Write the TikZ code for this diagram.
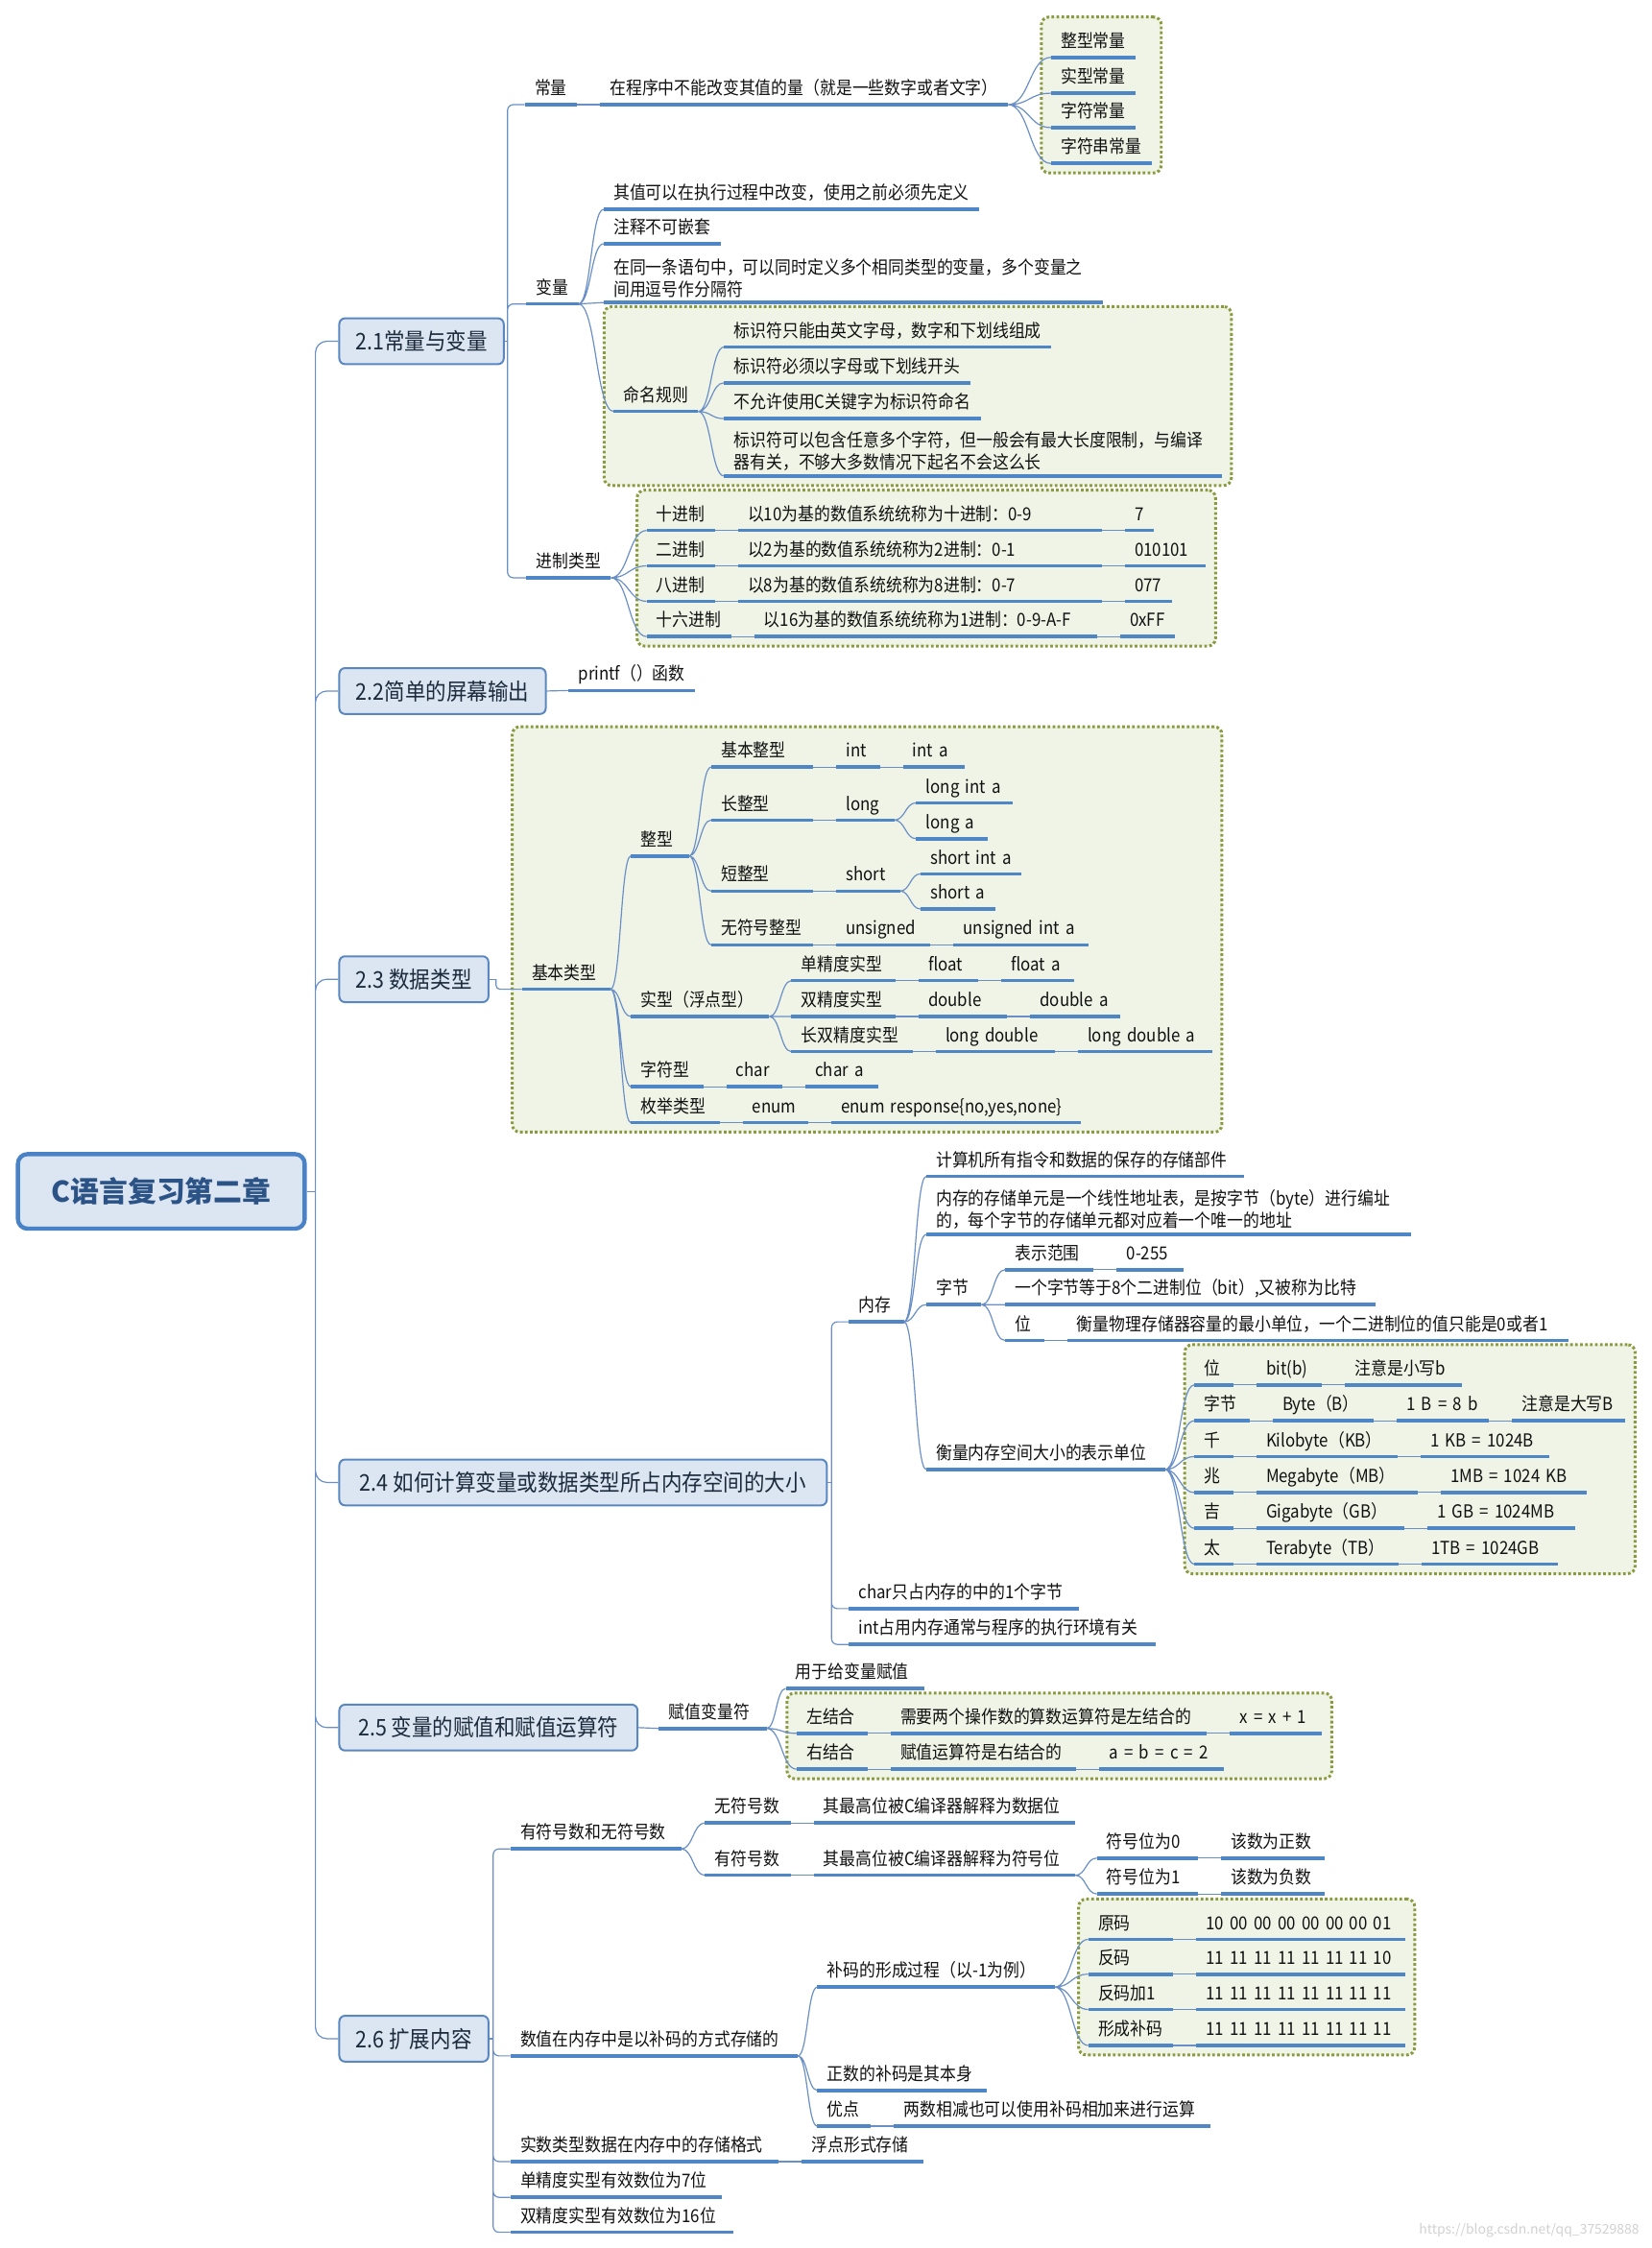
\documentclass[tikz,border=0pt]{standalone}
\usepackage{fontspec}
\setmainfont{Noto Sans CJK SC}
\newfontfamily\condfont{Noto Sans CJK SC}[FakeStretch=0.9]
\usetikzlibrary{positioning,calc,fit,backgrounds}
\definecolor{ulc}{HTML}{4F86C6}
\definecolor{linkc}{HTML}{6A8FC6}
\definecolor{secc}{HTML}{5B87C0}
\definecolor{secfill}{HTML}{DCE6F2}
\definecolor{rootc}{HTML}{4A82C8}
\definecolor{roottext}{HTML}{2C5386}
\definecolor{sectext}{HTML}{1C2B3C}
\definecolor{textc}{HTML}{111111}
\definecolor{grpc}{HTML}{8A9A3E}
\definecolor{grpfill}{HTML}{EFF4E6}
\tikzset{
	ulline/.style={draw=ulc,line width=1.8pt},
	ulbase/.style={anchor=south west,inner xsep=5pt,inner ysep=2.5pt,align=left,
		font=\condfont\fontsize{9.4}{11.5}\selectfont,text=textc,
		append after command={(\tikzlastnode.south west) edge[ulline] (\tikzlastnode.south east)}},
	topic/.style={ulbase,text height=8.2pt,text depth=2.5pt},
	para/.style={ulbase},
	tw/.style={text width=#1},
	link/.style={draw=linkc,line width=0.6pt},
	branch/.style={link,to path={.. controls ($(\tikztostart)!0.5!(\tikztostart-|\tikztotarget)$) and ($(\tikztotarget)!0.5!(\tikztotarget-|\tikztostart)$) .. (\tikztotarget)}},
	rootbox/.style={draw=rootc,fill=secfill,line width=2.2pt,rounded corners=5pt,minimum width=150pt,minimum height=39pt,
		font=\fontsize{15}{18}\selectfont\bfseries,text=roottext},
	secbox/.style={anchor=west,draw=secc,fill=secfill,line width=1pt,rounded corners=3pt,minimum height=24pt,
		inner xsep=7pt,font=\condfont\fontsize{12}{14}\selectfont,text=sectext},
	grpbox/.style={draw=grpc,fill=grpfill,line width=1.5pt,dash pattern=on 1.4pt off 1.2pt,rounded corners=4pt,inner sep=5pt}
}
\begin{document}
\begin{tikzpicture}[x=0.75pt,y=-0.75pt,node distance=12pt]
	\useasboundingbox (0,0) rectangle (1152,1568);
	\node[rootbox] (root) at (112.5,831) {C语言复习第二章};
	\coordinate (trunk) at (220,831);
	\node[secbox,minimum width=86pt]  (s21) at (236,238)  {2.1常量与变量};
	\node[secbox,minimum width=108pt] (s22) at (236,482)  {2.2简单的屏幕输出};
	\node[secbox,minimum width=78pt]  (s23) at (236,683)  {2.3 数据类型};
	\node[secbox,minimum width=255pt] (s24) at (236,1034) {2.4 如何计算变量或数据类型所占内存空间的大小};
	\node[secbox,minimum width=156pt] (s25) at (236,1205) {2.5 变量的赋值和赋值运算符};
	\node[secbox,minimum width=78pt]  (s26) at (236,1422) {2.6 扩展内容};
	\draw[link] (root.east) -- (trunk);
	\draw[link,rounded corners=6pt] (trunk) |- (s21.west) (trunk) |- (s22.west) (trunk) |- (s23.west)
		(trunk) |- (s24.west) (trunk) |- (s25.west) (trunk) |- (s26.west);

	\coordinate (bus21) at (354,238);
	\node[topic] (const) at (366,73) {常量};
	\node[topic,right=of const] (constdef) {在程序中不能改变其值的量（就是一些数字或者文字）};
	\node[topic] (cint)  at (733,40)  {整型常量};
	\node[topic] (creal) at (733,65)  {实型常量};
	\node[topic] (cchar) at (733,89)  {字符常量};
	\node[topic] (cstr)  at (733,114) {字符串常量};
	\node[topic] (var)   at (367,212) {变量};
	\node[topic] (var1)  at (421,146) {其值可以在执行过程中改变，使用之前必须先定义};
	\node[topic] (var2)  at (421,170) {注释不可嵌套};
	\node[para,tw=251pt] (var3) at (421,211) {在同一条语句中，可以同时定义多个相同类型的变量，多个变量之\\间用逗号作分隔符};
	\node[topic] (naming) at (428,287) {命名规则};
	\node[topic] (nm1) at (505,242) {标识符只能由英文字母，数字和下划线组成};
	\node[topic] (nm2) at (505,267) {标识符必须以字母或下划线开头};
	\node[topic] (nm3) at (505,292) {不允许使用C关键字为标识符命名};
	\node[para,tw=250pt] (nm4) at (505,332) {标识符可以包含任意多个字符，但一般会有最大长度限制，与编译\\器有关，不够大多数情况下起名不会这么长};
	\node[topic] (radix) at (367,403) {进制类型};
	\node[topic] (dec) at (451,370) {十进制};
	\node[topic,tw=180pt,right=of dec] (decd) {以10为基的数值系统统称为十进制：0-9};
	\node[topic,right=of decd] (decx) {7};
	\node[topic] (bin) at (451,394.7) {二进制};
	\node[topic,tw=180pt,right=of bin] (bind) {以2为基的数值系统统称为2进制：0-1};
	\node[topic,tw=32pt,right=of bind] (binx) {010101};
	\node[topic] (oct) at (451,419.4) {八进制};
	\node[topic,tw=180pt,right=of oct] (octd) {以8为基的数值系统统称为8进制：0-7};
	\node[topic,right=of octd] (octx) {077};
	\node[topic] (hex) at (451,444) {十六进制};
	\node[topic,tw=169pt,right=of hex] (hexd) {以16为基的数值系统统称为1进制：0-9-A-F};
	\node[topic,right=of hexd] (hexx) {0xFF};
	\draw[link] (s21.east) -- (bus21);
	\draw[link,rounded corners=3pt] (bus21) |- (const.south west) (bus21) |- (var.south west) (bus21) |- (radix.south west);
	\draw[link] (const.south east) -- (constdef.south west);
	\draw[branch] (constdef.south east) to (cint.south west) (constdef.south east) to (creal.south west)
		(constdef.south east) to (cchar.south west) (constdef.south east) to (cstr.south west);
	\draw[branch] (var.south east) to (var1.south west) (var.south east) to (var2.south west)
		(var.south east) to (var3.south west) (var.south east) to (naming.south west);
	\draw[branch] (naming.south east) to (nm1.south west) (naming.south east) to (nm2.south west)
		(naming.south east) to (nm3.south west) (naming.south east) to (nm4.south west);
	\draw[branch] (radix.south east) to (dec.south west) (radix.south east) to (bin.south west)
		(radix.south east) to (oct.south west) (radix.south east) to (hex.south west);
	\draw[link] (dec.south east) -- (decd.south west) (decd.south east) -- (decx.south west)
		(bin.south east) -- (bind.south west) (bind.south east) -- (binx.south west)
		(oct.south east) -- (octd.south west) (octd.south east) -- (octx.south west)
		(hex.south east) -- (hexd.south west) (hexd.south east) -- (hexx.south west);

	\node[topic] (printf) at (396.5,481.6) {printf（）函数};
	\draw[link] (s22.east) -- (printf.south west);

	\coordinate (bus23) at (346,683);
	\node[topic,tw=36pt] (basic) at (364,690) {基本类型};
	\node[topic,tw=20pt] (intg) at (440,597) {整型};
	\node[topic,tw=43pt] (intb) at (496,535) {基本整型};
	\node[topic,tw=12.5pt,right=of intb] (intb1) {int};
	\node[topic,tw=22pt,right=of intb1] (intb2) {int a};
	\node[topic,tw=43pt] (intl) at (496,572) {长整型};
	\node[topic,tw=20pt,right=of intl] (intl1) {long};
	\node[topic,tw=40pt] (intl2a) at (639,560) {long int a};
	\node[topic,tw=27pt] (intl2b) at (639,585) {long a};
	\node[topic,tw=43pt] (ints) at (496,621.5) {短整型};
	\node[topic,tw=23pt,right=of ints] (ints1) {short};
	\node[topic,tw=42.5pt] (ints2a) at (642,609.5) {short int a};
	\node[topic,tw=29pt] (ints2b) at (642,634) {short a};
	\node[topic,tw=43pt] (intu) at (496,659) {无符号整型};
	\node[topic,tw=39pt,right=of intu] (intu1) {unsigned};
	\node[topic,tw=60pt,right=of intu1] (intu2) {unsigned int a};
	\node[topic,tw=62pt] (real) at (440,709) {实型（浮点型）};
	\node[topic,tw=44pt] (flt) at (552,684) {单精度实型};
	\node[topic,tw=21pt,right=of flt] (flt1) {float};
	\node[topic,tw=27.5pt,right=of flt1] (flt2) {float a};
	\node[topic,tw=44pt] (dbl) at (552,709) {双精度实型};
	\node[topic,tw=36pt,right=of dbl] (dbl1) {double};
	\node[topic,tw=37pt,right=of dbl1] (dbl2) {double a};
	\node[topic,tw=53pt] (ldbl) at (552,733.5) {长双精度实型};
	\node[topic,tw=52pt,right=of ldbl] (ldbl1) {long double};
	\node[topic,tw=60pt,right=of ldbl1] (ldbl2) {long double a};
	\node[topic,tw=27.5pt] (chr) at (440,758) {字符型};
	\node[topic,tw=19pt,right=of chr] (chr1) {char};
	\node[topic,tw=27.5pt,right=of chr1] (chr2) {char a};
	\node[topic,tw=36pt] (enm) at (440,783) {枚举类型};
	\node[topic,tw=24pt,right=of enm] (enm1) {enum};
	\node[topic,tw=120pt,right=of enm1] (enm2) {enum response\{no,yes,none\}};
	\draw[link] (s23.east) -- (bus23);
	\draw[link,rounded corners=2pt] (bus23) |- (basic.south west);
	\draw[branch] (basic.south east) to (intg.south west) (basic.south east) to (real.south west)
		(basic.south east) to (chr.south west) (basic.south east) to (enm.south west);
	\draw[branch] (intg.south east) to (intb.south west) (intg.south east) to (intl.south west)
		(intg.south east) to (ints.south west) (intg.south east) to (intu.south west);
	\draw[branch] (intl1.south east) to (intl2a.south west) (intl1.south east) to (intl2b.south west);
	\draw[branch] (ints1.south east) to (ints2a.south west) (ints1.south east) to (ints2b.south west);
	\draw[branch] (real.south east) to (flt.south west) (real.south east) to (dbl.south west)
		(real.south east) to (ldbl.south west);
	\draw[link] (intb.south east) -- (intb1.south west) (intb1.south east) -- (intb2.south west)
		(intl.south east) -- (intl1.south west) (ints.south east) -- (ints1.south west)
		(intu.south east) -- (intu1.south west) (intu1.south east) -- (intu2.south west)
		(flt.south east) -- (flt1.south west) (flt1.south east) -- (flt2.south west)
		(dbl.south east) -- (dbl1.south west) (dbl1.south east) -- (dbl2.south west)
		(ldbl.south east) -- (ldbl1.south west) (ldbl1.south east) -- (ldbl2.south west)
		(chr.south east) -- (chr1.south west) (chr1.south east) -- (chr2.south west)
		(enm.south east) -- (enm1.south west) (enm1.south east) -- (enm2.south west);

	\coordinate (bus24) at (580,1034);
	\node[topic,tw=18.5pt] (mem) at (592,922) {内存};
	\node[topic,tw=156pt] (mem1) at (646,820.5) {计算机所有指令和数据的保存的存储部件};
	\node[para,tw=243pt] (mem2) at (646,861) {内存的存储单元是一个线性地址表，是按字节（byte）进行编址\\的，每个字节的存储单元都对应着一个唯一的地址};
	\node[topic,tw=18.5pt] (byte) at (646,910) {字节};
	\node[topic,tw=36pt] (range) at (701,885.6) {表示范围};
	\node[topic,tw=24.5pt,right=of range] (range1) {0-255};
	\node[topic,tw=183.5pt] (byte2) at (701,910) {一个字节等于8个二进制位（bit）,又被称为比特};
	\node[topic,tw=10pt] (bit) at (701,935) {位};
	\node[topic,tw=252pt,right=of bit] (bit1) {衡量物理存储器容量的最小单位，一个二进制位的值只能是0或者1};
	\node[topic,tw=114.5pt] (unit) at (646,1025) {衡量内存空间大小的表示单位};
	\node[topic,tw=10pt] (ubit) at (833,966) {位};
	\node[topic,tw=24pt,right=of ubit] (ubit1) {bit(b)};
	\node[topic,tw=51pt,right=of ubit1] (ubit2) {注意是小写b};
	\node[topic,tw=18.5pt] (ubyte) at (833,991) {字节};
	\node[topic,tw=42.5pt,right=of ubyte] (ubyte1) {Byte（B）};
	\node[topic,tw=38pt,right=of ubyte1] (ubyte2) {1 B = 8 b};
	\node[topic,tw=49pt,right=of ubyte2] (ubyte3) {注意是大写B};
	\node[topic,tw=10pt] (ukb) at (833,1016) {千};
	\node[topic,tw=63.5pt,right=of ukb] (ukb1) {Kilobyte（KB）};
	\node[topic,tw=57pt,right=of ukb1] (ukb2) {1 KB = 1024B};
	\node[topic,tw=10pt] (umb) at (833,1041) {兆};
	\node[topic,tw=74pt,right=of umb] (umb1) {Megabyte（MB）};
	\node[topic,tw=66pt,right=of umb1] (umb2) {1MB = 1024 KB};
	\node[topic,tw=10pt] (ugb) at (833,1066) {吉};
	\node[topic,tw=67pt,right=of ugb] (ugb1) {Gigabyte（GB）};
	\node[topic,tw=67pt,right=of ugb1] (ugb2) {1 GB = 1024MB};
	\node[topic,tw=10pt] (utb) at (833,1091) {太};
	\node[topic,tw=64pt,right=of utb] (utb1) {Terabyte（TB）};
	\node[topic,tw=61pt,right=of utb1] (utb2) {1TB = 1024GB};
	\node[topic,tw=110pt] (charsz) at (592,1122) {char只占内存的中的1个字节};
	\node[topic,tw=150pt] (intsz) at (592,1147) {int占用内存通常与程序的执行环境有关};
	\draw[link] (s24.east) -- (bus24);
	\draw[link,rounded corners=3pt] (bus24) |- (mem.south west) (bus24) |- (charsz.south west) (bus24) |- (intsz.south west);
	\draw[branch] (mem.south east) to (mem1.south west) (mem.south east) to (mem2.south west)
		(mem.south east) to (byte.south west) (mem.south east) to (unit.south west);
	\draw[branch] (byte.south east) to (range.south west) (byte.south east) to (byte2.south west)
		(byte.south east) to (bit.south west);
	\draw[branch] (unit.south east) to (ubit.south west) (unit.south east) to (ubyte.south west)
		(unit.south east) to (ukb.south west) (unit.south east) to (umb.south west)
		(unit.south east) to (ugb.south west) (unit.south east) to (utb.south west);
	\draw[link] (range.south east) -- (range1.south west) (bit.south east) -- (bit1.south west)
		(ubit.south east) -- (ubit1.south west) (ubit1.south east) -- (ubit2.south west)
		(ubyte.south east) -- (ubyte1.south west) (ubyte1.south east) -- (ubyte2.south west) (ubyte2.south east) -- (ubyte3.south west)
		(ukb.south east) -- (ukb1.south west) (ukb1.south east) -- (ukb2.south west)
		(umb.south east) -- (umb1.south west) (umb1.south east) -- (umb2.south west)
		(ugb.south east) -- (ugb1.south west) (ugb1.south east) -- (ugb2.south west)
		(utb.south east) -- (utb1.south west) (utb1.south east) -- (utb2.south west);

	\node[topic,tw=46pt] (asgn) at (459.5,1205.6) {赋值变量符};
	\node[topic,tw=62pt] (asgn1) at (548,1177.7) {用于给变量赋值};
	\node[topic,tw=26.75pt] (lft) at (555.6,1209) {左结合};
	\node[topic,tw=155pt,right=of lft] (lft1) {需要两个操作数的算数运算符是左结合的};
	\node[topic,tw=38pt,right=of lft1] (lft2) {x = x + 1};
	\node[topic,tw=26.75pt] (rgt) at (555.6,1234) {右结合};
	\node[topic,tw=86.75pt,right=of rgt] (rgt1) {赋值运算符是右结合的};
	\node[topic,tw=55pt,right=of rgt1] (rgt2) {a = b = c = 2};
	\draw[link] (s25.east) -- (asgn.south west);
	\draw[branch] (asgn.south east) to (asgn1.south west) (asgn.south east) to (lft.south west)
		(asgn.south east) to (rgt.south west);
	\draw[link] (lft.south east) -- (lft1.south west) (lft1.south east) -- (lft2.south west)
		(rgt.south east) -- (rgt1.south west) (rgt1.south east) -- (rgt2.south west);

	\coordinate (bus26) at (344,1422);
	\node[topic,tw=79pt] (sign) at (356,1289.6) {有符号数和无符号数};
	\node[topic,tw=34.5pt] (unsg) at (491.6,1271.5) {无符号数};
	\node[topic,tw=126.5pt,right=of unsg] (unsg1) {其最高位被C编译器解释为数据位};
	\node[topic,tw=34.5pt] (sgn) at (491.6,1308) {有符号数};
	\node[topic,tw=126.5pt,right=of sgn] (sgn1) {其最高位被C编译器解释为符号位};
	\node[topic,tw=42.5pt] (sb0) at (765,1296) {符号位为0};
	\node[topic,tw=44pt,right=of sb0] (sb0x) {该数为正数};
	\node[topic,tw=42.5pt] (sb1) at (765,1321) {符号位为1};
	\node[topic,tw=44pt,right=of sb1] (sb1x) {该数为负数};
	\node[topic,tw=140pt] (store) at (356,1434) {数值在内存中是以补码的方式存储的};
	\node[topic,tw=113.75pt] (cplx) at (570,1386) {补码的形成过程（以-1为例）};
	\node[topic,tw=34pt] (orig) at (759,1352.7) {原码};
	\node[topic,tw=99pt,right=of orig] (orig1) {10 00 00 00 00 00 00 01};
	\node[topic,tw=34pt] (inv) at (759,1377) {反码};
	\node[topic,tw=99pt,right=of inv] (inv1) {11 11 11 11 11 11 11 10};
	\node[topic,tw=34pt] (invp) at (759,1401.6) {反码加1};
	\node[topic,tw=99pt,right=of invp] (invp1) {11 11 11 11 11 11 11 11};
	\node[topic,tw=34pt] (cmpl) at (759,1426.7) {形成补码};
	\node[topic,tw=99pt,right=of cmpl] (cmpl1) {11 11 11 11 11 11 11 11};
	\node[topic,tw=78.5pt] (pos) at (570,1458) {正数的补码是其本身};
	\node[topic,tw=17.75pt] (adv) at (570,1483) {优点};
	\node[topic,tw=155pt,right=of adv] (adv1) {两数相减也可以使用补码相加来进行运算};
	\node[topic,tw=130pt] (realfmt) at (356,1507.7) {实数类型数据在内存中的存储格式};
	\node[topic,tw=53pt,right=of realfmt] (realfmt1) {浮点形式存储};
	\node[topic,tw=100pt] (single) at (356,1532.6) {单精度实型有效数位为7位};
	\node[topic,tw=106pt] (dblprec) at (356,1557) {双精度实型有效数位为16位};
	\draw[link] (s26.east) -- (bus26);
	\draw[link,rounded corners=3pt] (bus26) |- (sign.south west) (bus26) |- (store.south west)
		(bus26) |- (realfmt.south west) (bus26) |- (single.south west) (bus26) |- (dblprec.south west);
	\draw[branch] (sign.south east) to (unsg.south west) (sign.south east) to (sgn.south west);
	\draw[branch] (sgn1.south east) to (sb0.south west) (sgn1.south east) to (sb1.south west);
	\draw[branch] (store.south east) to (cplx.south west) (store.south east) to (pos.south west)
		(store.south east) to (adv.south west);
	\draw[branch] (cplx.south east) to (orig.south west) (cplx.south east) to (inv.south west)
		(cplx.south east) to (invp.south west) (cplx.south east) to (cmpl.south west);
	\draw[link] (unsg.south east) -- (unsg1.south west) (sgn.south east) -- (sgn1.south west)
		(sb0.south east) -- (sb0x.south west) (sb1.south east) -- (sb1x.south west)
		(orig.south east) -- (orig1.south west) (inv.south east) -- (inv1.south west)
		(invp.south east) -- (invp1.south west) (cmpl.south east) -- (cmpl1.south west)
		(adv.south east) -- (adv1.south west) (realfmt.south east) -- (realfmt1.south west);

	\node[anchor=east,text=black!18,font=\fontsize{7}{8}\selectfont] (wmark) at (1148,1556) {https://blog.csdn.net/qq\_37529888};

	\begin{scope}[on background layer]
		\node[grpbox,fit=(cint)(creal)(cchar)(cstr)] (gconst) {};
		\node[grpbox,fit=(naming)(nm1)(nm2)(nm3)(nm4)] (gname) {};
		\node[grpbox,fit=(dec)(decx)(binx)(hex)(hexx)] (gradix) {};
		\node[grpbox,fit=(basic)(intb)(intu2)(ldbl2)(enm)(enm2)] (gtype) {};
		\node[grpbox,fit=(ubit)(ubyte3)(utb)(utb2)(umb2)] (gunit) {};
		\node[grpbox,fit=(lft)(lft2)(rgt)(rgt2)] (gassoc) {};
		\node[grpbox,fit=(orig)(orig1)(cmpl)(cmpl1)] (gcode) {};
	\end{scope}
\end{tikzpicture}
\end{document}
